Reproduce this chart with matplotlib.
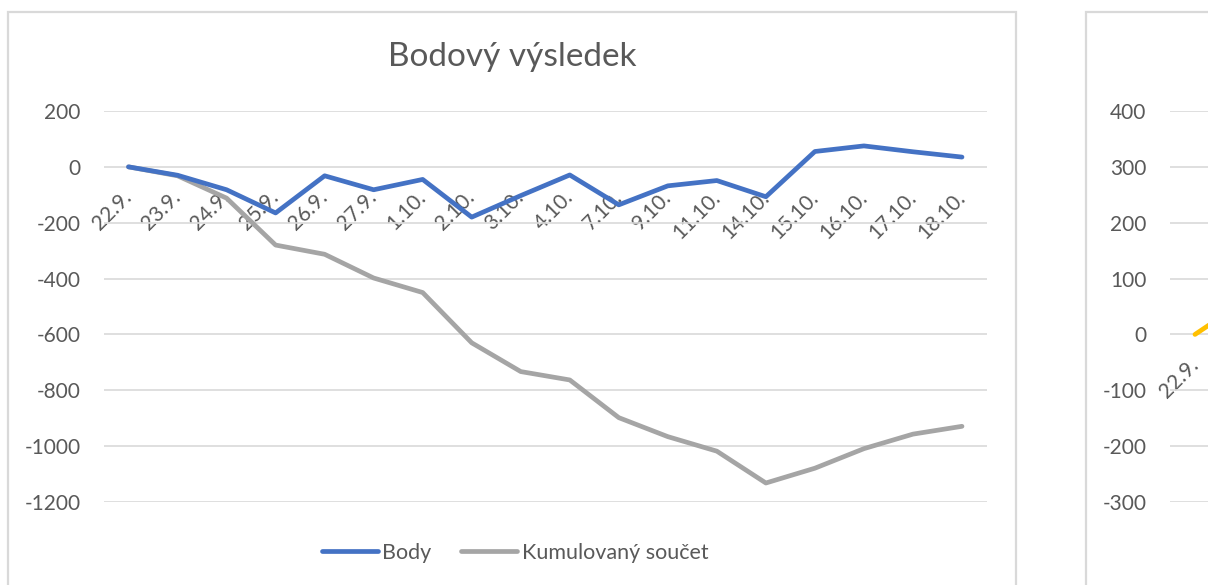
import matplotlib.pyplot as plt
from matplotlib.patches import Rectangle
from matplotlib.lines import Line2D

plt.rcParams['font.family'] = ['Lato', 'DejaVu Sans']
plt.rcParams['axes.unicode_minus'] = False

# data
dates = ["22.9.", "23.9.", "24.9.", "25.9.", "26.9.", "27.9.", "1.10.", "2.10.", "3.10.",
         "4.10.", "7.10.", "9.10.", "11.10.", "14.10.", "15.10.", "16.10.", "17.10.", "18.10."]
body = [0, -30, -82, -165, -32, -82, -45, -180, -103,
        -29, -136, -68, -49, -107, 55, 75, 54, 35]
kumulovany = [0, -32, -112, -280, -313, -398, -450, -630, -733,
              -763, -898, -966, -1018, -1132, -1079, -1009, -957, -929]

# second chart on the right, only its start is visible
dates2 = ["22.9.", "23.9."]
values2 = [0, 60]

yticks_left = list(range(-1200, 201, 200))
yticks_right = list(range(-300, 401, 100))

BLUE = "#4472C4"
GRAY = "#A5A5A5"
YELLOW = "#FFC000"
TEXT = "#595959"
GRID = "#D9D9D9"

W, H = 1208, 585


def box(l, t, r, b):
    return [l / W, 1 - b / H, (r - l) / W, (b - t) / H]


def style_axes(ax, labels, yticks, xpad):
    ax.set_xlim(-0.5, len(labels) - 0.5)
    ax.set_ylim(yticks[0], yticks[-1])
    ax.set_yticks(yticks)
    ax.set_xticks(range(len(labels)))
    ax.set_xticklabels(labels)
    ax.grid(axis="y", color=GRID, lw=1.2)
    ax.set_axisbelow(True)
    for s in ["top", "right", "left"]:
        ax.spines[s].set_visible(False)
    ax.spines["bottom"].set_position(("data", 0))
    ax.spines["bottom"].set_color("none")
    ax.tick_params(axis="y", length=0, pad=17, labelsize=15, labelcolor=TEXT)
    ax.tick_params(axis="x", length=0, pad=xpad, labelsize=15, labelcolor=TEXT)
    for lbl in ax.get_xticklabels():
        lbl.set_rotation(45)
        lbl.set_rotation_mode("anchor")
        lbl.set_ha("right")
        lbl.set_va("center")


fig = plt.figure(figsize=(W / 100, H / 100), dpi=100)

# chart borders
fig.patches.append(Rectangle((8 / W, -0.1), (1016 - 8) / W, 1.1 - 12 / H,
                             transform=fig.transFigure, fill=False, ec=GRID, lw=1.6))
fig.patches.append(Rectangle((1086 / W, -0.1), 0.5, 1.1 - 12 / H,
                             transform=fig.transFigure, fill=False, ec=GRID, lw=1.6))

ax = fig.add_axes(box(104, 111, 986.5, 502))
x = range(len(dates))
ax.plot(x, kumulovany, color=GRAY, lw=3.4, solid_capstyle="round", solid_joinstyle="round")
ax.plot(x, body, color=BLUE, lw=3.4, solid_capstyle="round", solid_joinstyle="round")
style_axes(ax, dates, yticks_left, 20)

fig.text(512 / W, 1 - 57 / H, "Bodový výsledek", ha="center", va="center",
         fontsize=24, color=TEXT)

handles = [Line2D([], [], color=BLUE, lw=3.4, solid_capstyle="round"),
           Line2D([], [], color=GRAY, lw=3.4, solid_capstyle="round")]
fig.legend(handles, ["Body", "Kumulovaný součet"], loc="center",
           bbox_to_anchor=(515 / W, 1 - 553 / H), ncol=2, frameon=False,
           fontsize=15.5, labelcolor=TEXT, handlelength=2.6, handletextpad=0.2,
           columnspacing=1.4)

ax2 = fig.add_axes(box(1170, 111, 1270, 502))
ax2.plot(range(len(dates2)), values2, color=YELLOW, lw=3.4,
         solid_capstyle="round", solid_joinstyle="round")
style_axes(ax2, dates2, yticks_right, 20)
# only the first category label fits inside the visible part
for lbl in ax2.get_xticklabels()[1:]:
    lbl.set_visible(False)

fig.savefig("out.png", dpi=100)
